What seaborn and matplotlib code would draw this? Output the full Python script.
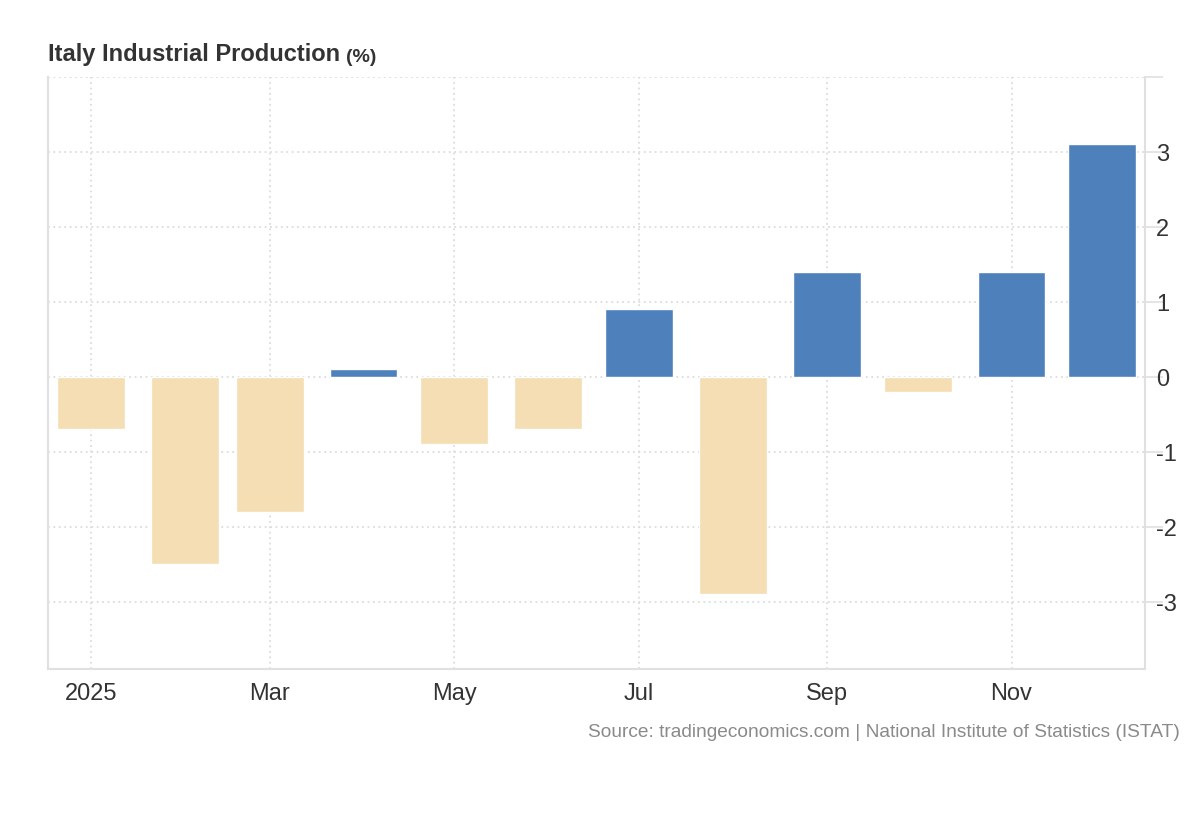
import pandas as pd
import seaborn as sns
import matplotlib.pyplot as plt

# Monthly change of industrial production, 2025
months = ['2025-01-01', '2025-02-01', '2025-03-01', '2025-04-01', '2025-05-01', '2025-06-01',
          '2025-07-01', '2025-08-01', '2025-09-01', '2025-10-01', '2025-11-01', '2025-12-01']
values = [-0.7, -2.5, -1.8, 0.1, -0.9, -0.7, 0.9, -2.9, 1.4, -0.2, 1.4, 3.1]
tick_months = ['2025-01-01', '2025-03-01', '2025-05-01', '2025-07-01', '2025-09-01', '2025-11-01']
tick_labels = ['2025', 'Mar', 'May', 'Jul', 'Sep', 'Nov']
y_ticks = [-3, -2, -1, 0, 1, 2, 3, 4]
y_labels = ['-3', '-2', '-1', '0', '1', '2', '3', '']

start = pd.Timestamp('2025-01-01')
df = pd.DataFrame({'Data': pd.to_datetime(months), 'Valor': values})
df['Dia'] = (df['Data'] - start).dt.days
df['Sinal'] = ['pos' if v >= 0 else 'neg' for v in values]
tick_days = [(pd.Timestamp(m) - start).days for m in tick_months]

sns.set_style('white')
plt.rcParams['font.family'] = ['Liberation Sans', 'DejaVu Sans']

fig = plt.figure(figsize=(12, 8.2), dpi=100)
ax = fig.add_axes([0.04, 0.1829, 0.914, 0.722])

sns.barplot(data=df, x='Dia', y='Valor', hue='Sinal', native_scale=True, dodge=False,
            palette={'pos': '#4e80bc', 'neg': '#f5deb3'}, width=0.8, legend=False,
            saturation=1, ax=ax, zorder=3)

ax.set_xlim(-14.2, 348)
ax.set_ylim(-3.9, 4)

ax.set_xticks(tick_days)
ax.set_xticklabels(tick_labels)
ax.set_yticks(y_ticks)
ax.set_yticklabels(y_labels)
ax.yaxis.tick_right()

ax.grid(True, linestyle=(0, (1, 2)), color='#dcdcdc', linewidth=1.3, zorder=0)
ax.set_axisbelow(True)

ax.spines['top'].set_visible(False)
for side in ['left', 'right', 'bottom']:
    ax.spines[side].set_color('#e0e0e0')
    ax.spines[side].set_linewidth(1.5)

ax.tick_params(axis='x', length=0, pad=9, labelsize=17, labelcolor='#333333')
ax.tick_params(axis='y', which='both', right=True, left=False, length=13, width=1.2,
               color='#e0e0e0', pad=-5, labelsize=17, labelcolor='#333333')
for lab in ax.get_yticklabels():
    lab.set_horizontalalignment('left')

ax.set_xlabel('')
ax.set_ylabel('')

title = fig.text(0.04, 0.92, 'Italy Industrial Production', fontsize=17, fontweight='bold',
                 color='#333333', ha='left', va='bottom')
fig.canvas.draw()
bb = title.get_window_extent().transformed(fig.transFigure.inverted())
fig.text(bb.x1 + 0.005, 0.92, '(%)', fontsize=14, fontweight='bold', color='#333333',
         ha='left', va='bottom')
fig.text(0.983, 0.107, 'Source: tradingeconomics.com | National Institute of Statistics (ISTAT)',
         fontsize=13.8, color='#8a8a8a', ha='right', va='center')

plt.savefig('out.png', dpi=100)
